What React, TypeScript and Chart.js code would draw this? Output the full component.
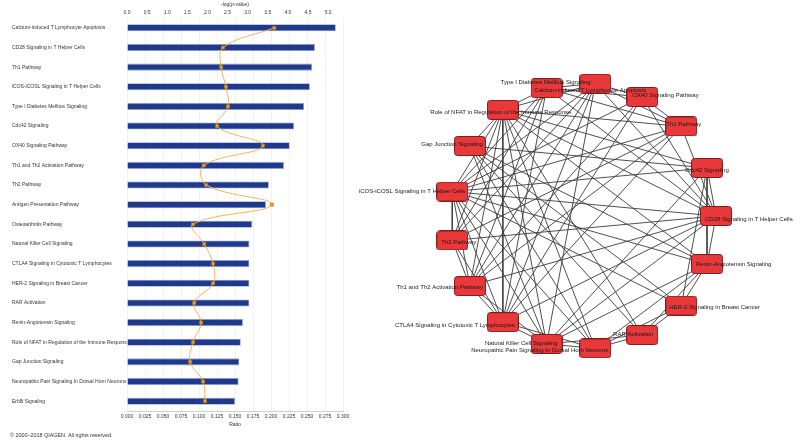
import React, { useEffect, useRef } from "react";
import { Chart, registerables } from "chart.js";
Chart.register(...registerables);

const FONT = "'Liberation Sans', Arial, sans-serif";

// ---- Left chart data ----
const pathways = [
  "Calcium-induced T Lymphocyte Apoptosis",
  "CD28 Signaling in T Helper Cells",
  "Th1 Pathway",
  "iCOS-iCOSL Signaling in T Helper Cells",
  "Type I Diabetes Mellitus Signaling",
  "Cdc42 Signaling",
  "OX40 Signaling Pathway",
  "Th1 and Th2 Activation Pathway",
  "Th2 Pathway",
  "Antigen Presentation Pathway",
  "Osteoarthritis Pathway",
  "Natural Killer Cell Signaling",
  "CTLA4 Signaling in Cytotoxic T Lymphocytes",
  "HER-2 Signaling in Breast Cancer",
  "RAR Activation",
  "Renin-Angiotensin Signaling",
  "Role of NFAT in Regulation of the Immune Response",
  "Gap Junction Signaling",
  "Neuropathic Pain Signaling In Dorsal Horn Neurons",
  "ErbB Signaling",
];
const ratioValues = [
  0.29, 0.261, 0.257, 0.254, 0.246, 0.232, 0.226, 0.218, 0.197, 0.193,
  0.174, 0.17, 0.17, 0.17, 0.17, 0.161, 0.158, 0.156, 0.155, 0.15,
];
const logPValues = [
  3.66, 2.39, 2.34, 2.46, 2.51, 2.24, 3.38, 1.91, 1.97, 3.6,
  1.64, 1.92, 2.14, 2.14, 1.67, 1.84, 1.64, 1.57, 1.89, 1.94,
];
const ratioTicks = { min: 0, max: 0.3, step: 0.025 };
const logTicks = { min: 0, step: 0.5 };

// ---- Network data (circular layout order) ----
const networkNodes = [
  "CD28 Signaling in T Helper Cells",
  "Cdc42 Signaling",
  "Th1 Pathway",
  "OX40 Signaling Pathway",
  "Calcium-induced T Lymphocyte Apoptosis",
  "Type I Diabetes Mellitus Signaling",
  "Role of NFAT in Regulation of the Immune Response",
  "Gap Junction Signaling",
  "iCOS-iCOSL Signaling in T Helper Cells",
  "Th2 Pathway",
  "Th1 and Th2 Activation Pathway",
  "CTLA4 Signaling in Cytotoxic T Lymphocytes",
  "Natural Killer Cell Signaling",
  "Neuropathic Pain Signaling In Dorsal Horn Neurons",
  "RAR Activation",
  "HER-2 Signaling in Breast Cancer",
  "Renin-Angiotensin Signaling",
];
const networkEdges: [number, number][] = [
  [0, 1], [0, 2], [0, 3], [0, 4], [0, 5], [0, 6], [0, 8], [0, 9], [0, 10], [0, 11], [0, 12], [0, 16],
  [1, 6], [1, 7], [1, 8], [1, 12], [1, 15], [1, 16],
  [2, 3], [2, 4], [2, 5], [2, 6], [2, 8], [2, 9], [2, 10], [2, 11],
  [3, 4], [3, 5], [3, 8], [3, 10], [3, 11],
  [4, 5], [4, 6], [4, 8], [4, 9], [4, 10], [4, 11], [4, 12],
  [5, 6], [5, 8], [5, 9], [5, 10], [5, 11],
  [6, 7], [6, 8], [6, 9], [6, 10], [6, 11], [6, 12], [6, 13], [6, 14], [6, 16],
  [7, 12], [7, 13], [7, 14], [7, 15], [7, 16],
  [8, 9], [8, 10], [8, 11], [8, 12], [8, 13], [8, 15], [8, 16],
  [9, 10], [9, 11],
  [10, 11], [10, 12],
  [11, 12], [11, 13],
  [12, 13], [12, 14], [12, 16],
  [13, 14], [13, 15], [13, 16],
  [14, 15], [14, 16],
  [15, 16],
];

// label placement style (align, dx, dy in px relative to node centre)
const labelStyle: [CanvasTextAlign, number, number][] = [
  ["left", -11, 3], ["left", -22, 2], ["left", -15, -2], ["left", -10, -2],
  ["center", -5, 7], ["center", -1, -6], ["center", -2, 2], ["right", 13, -2],
  ["right", 13, 0], ["left", -11, 2], ["right", 13, 1], ["right", 12, 3],
  ["right", 11, -1], ["right", 13, 2], ["center", -9, -1], ["left", -12, 2],
  ["left", -11, 0],
];

function LeftChart() {
  const ref = useRef<HTMLCanvasElement | null>(null);
  useEffect(() => {
    if (!ref.current) return;
    const small = { size: 5, family: FONT };
    const copyright = {
      id: "copyright",
      afterDraw(chart: any) {
        const ctx = chart.ctx;
        ctx.save();
        ctx.font = `5.4px ${FONT}`;
        ctx.fillStyle = "#333";
        ctx.textAlign = "left";
        ctx.textBaseline = "middle";
        ctx.fillText("\u00a9 2000\u20132018 QIAGEN. All rights reserved.", 10, 436);
        ctx.restore();
      },
    };
    const chart = new Chart(ref.current, {
      type: "bar",
      data: {
        labels: pathways,
        datasets: [
          {
            type: "line",
            label: "-log(p-value)",
            data: logPValues,
            xAxisID: "x2",
            yAxisID: "y",
            indexAxis: "y",
            borderColor: "#f6b25a",
            borderWidth: 1,
            tension: 0.4,
            pointStyle: "rect",
            pointRadius: 2.2,
            pointBackgroundColor: "#f4a21c",
            pointBorderColor: "#b07a10",
            pointBorderWidth: 0.6,
            order: 0,
          } as any,
          {
            type: "bar",
            label: "Ratio",
            data: ratioValues,
            xAxisID: "x",
            yAxisID: "y",
            backgroundColor: "#1f3a8c",
            borderColor: "#8fa0cf",
            borderWidth: 0.8,
            barPercentage: 0.36,
            categoryPercentage: 1,
            order: 1,
          } as any,
        ],
      },
      options: {
        indexAxis: "y",
        animation: false,
        responsive: false,
        maintainAspectRatio: false,
        layout: { padding: { left: 12, right: 12, top: 0, bottom: 13 } },
        plugins: { legend: { display: false }, tooltip: { enabled: false } },
        scales: {
          y: {
            position: "left",
            grid: { display: false, drawTicks: false },
            border: { display: false },
            ticks: { crossAlign: "far", font: small, color: "#333", autoSkip: false, padding: 0 },
            afterFit: (s: any) => { s.width = 115; },
          },
          x: {
            position: "bottom",
            min: ratioTicks.min,
            max: ratioTicks.max,
            grid: { color: "rgba(0,0,0,0.05)", drawTicks: false },
            border: { color: "#d0d0d0" },
            ticks: {
              stepSize: ratioTicks.step,
              autoSkip: false,
              maxRotation: 0,
              padding: 3,
              font: small,
              color: "#333",
              callback: (v: any) => Number(v).toFixed(3),
            },
            title: { display: true, text: "Ratio", font: small, color: "#333", padding: { top: 0, bottom: 4 } },
            afterFit: (s: any) => { s.height = 21; },
          },
          x2: {
            position: "top",
            min: logTicks.min,
            max: 5.37,
            grid: { display: false, drawTicks: false },
            border: { display: false },
            ticks: {
              stepSize: logTicks.step,
              includeBounds: false,
              autoSkip: false,
              maxRotation: 0,
              padding: 2,
              font: small,
              color: "#333",
              callback: (v: any) => Number(v).toFixed(1),
            },
            title: { display: true, text: "-log(p-value)", font: small, color: "#333", padding: { top: 2, bottom: 0 } },
            afterFit: (s: any) => { s.height = 18; },
          },
        },
      } as any,
      plugins: [copyright],
    });
    return () => chart.destroy();
  }, []);
  return <canvas ref={ref} width={355} height={445} style={{ position: "absolute", left: 0, top: 0 }} />;
}

function makeNodeImage(): HTMLCanvasElement {
  const c = document.createElement("canvas");
  c.width = 32;
  c.height = 20;
  const ctx = c.getContext("2d")!;
  ctx.fillStyle = "#e8383a";
  ctx.strokeStyle = "#7a1f1f";
  ctx.lineWidth = 1;
  ctx.beginPath();
  (ctx as any).roundRect(0.5, 0.5, 31, 19, 3);
  ctx.fill();
  ctx.stroke();
  return c;
}

function NetworkChart() {
  const ref = useRef<HTMLCanvasElement | null>(null);
  useEffect(() => {
    if (!ref.current) return;
    const n = networkNodes.length;
    const pos = networkNodes.map((_, i) => {
      const a = (i * 2 * Math.PI) / n;
      return { x: Math.cos(a), y: Math.sin(a) };
    });
    const edgeSets = networkEdges.map(([a, b]) => ({
      type: "scatter",
      data: [pos[a], pos[b]],
      showLine: true,
      borderColor: "#3c3c3c",
      borderWidth: 0.9,
      pointRadius: 0,
      pointHoverRadius: 0,
      order: 2,
    }));
    const nodeSet = {
      type: "scatter",
      data: pos,
      pointStyle: makeNodeImage(),
      pointRadius: 1,
      pointHoverRadius: 0,
      pointBorderWidth: 0,
      order: 0,
    };
    const labels = {
      id: "nodeLabels",
      afterDatasetsDraw(chart: any) {
        const ctx = chart.ctx;
        const xs = chart.scales.x;
        const ys = chart.scales.y;
        ctx.save();
        ctx.font = `6px ${FONT}`;
        ctx.fillStyle = "#1a1a1a";
        ctx.textBaseline = "middle";
        networkNodes.forEach((name, i) => {
          const [align, dx, dy] = labelStyle[i];
          ctx.textAlign = align;
          ctx.fillText(name, xs.getPixelForValue(pos[i].x) + dx, ys.getPixelForValue(pos[i].y) + dy);
        });
        ctx.restore();
      },
    };
    const R = 133;
    const cx = 228;
    const cy = 216;
    const W = 445;
    const H = 445;
    const chart = new Chart(ref.current, {
      type: "scatter",
      data: { datasets: [nodeSet as any, ...(edgeSets as any)] },
      options: {
        animation: false,
        responsive: false,
        maintainAspectRatio: false,
        layout: { padding: 0, autoPadding: false },
        plugins: { legend: { display: false }, tooltip: { enabled: false } },
        scales: {
          x: { display: false, min: -cx / R, max: (W - cx) / R },
          y: { display: false, min: -(H - cy) / R, max: cy / R },
        },
      } as any,
      plugins: [labels],
    });
    return () => chart.destroy();
  }, []);
  return <canvas ref={ref} width={445} height={445} style={{ position: "absolute", left: 355, top: 0 }} />;
}

export default function App() {
  return (
    <div style={{ position: "absolute", left: 0, top: 0, width: 800, height: 445, background: "#fff", overflow: "hidden" }}>
      <LeftChart />
      <NetworkChart />
    </div>
  );
}
